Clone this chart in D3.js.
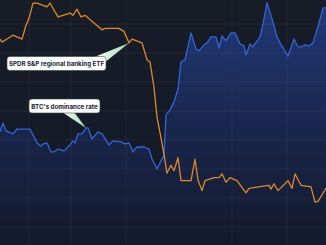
<!DOCTYPE html>
<html><head><meta charset="utf-8">
<script src="https://cdn.jsdelivr.net/npm/d3@7"></script>
<style>html,body{margin:0;padding:0;background:#161b26;}svg{display:block;}</style>
</head><body>
<svg id="c" width="326" height="245"></svg>
<script>
// Regional banking ETF price (USD)
const etfDays  = [0,1,3.5,6.5,11,13,14.5,16.5,18.5,23.5,25,27,29,31.5,35,36.5,38.5,40.5,42.5,47,51,52.5,59.5,62,64.5,66,71,73.5,75,77,78.5,80.5,82,83.5,85.5,87,89,90.5,95.5,97.5,99,101,102.5,107,109.5,111,113,115,118.5,123,124.5,131.5,134.5,135.5,137,139,144,146,147.5,150.5,155.5,157.5,159,163];
const etfPrice = [56.9,56.5,56.9,57.4,56.9,58.7,59.6,61.6,61.6,61.1,61.6,60.7,59.8,60.0,60.3,60.0,60.8,59.8,60.0,59.0,58.1,58.3,58.3,57.9,56.4,56.9,56.4,54.2,53.9,50.6,46.7,44.0,41.8,39.4,40.4,39.7,41.4,38.4,38.4,41.2,38.5,37.1,38.4,38.8,38.8,39.3,38.2,38.8,38.4,36.8,37.4,37.7,37.8,37.3,38.0,37.1,38.4,37.4,39.3,37.8,37.6,35.6,35.7,37.4];
// BTC dominance rate (%)
const btcDays = [0,1.5,3,6.5,8.5,15,18.5,20.5,21.5,23.5,25.5,27,29,32,35,36.5,37.5,39,41,43,44,46,49,51,54.5,56.5,60.5,62.5,64.5,66.5,68.5,72,74.5,76,78.5,82,83,85,87,89,90.5,92.5,95.5,98,99.5,102,103.5,105.5,108,109.5,111,113,115.5,117.5,120,122,123,125,126.5,130,131.5,133.5,136.5,138.5,140,144,147,149,150.5,152.5,154.5,156.5,159.5,161.5,163];
const btcDom  = [43.54,43.98,43.59,43.44,43.68,43.68,43.00,42.85,42.95,43.00,42.56,42.56,42.70,42.61,42.90,43.10,43.00,43.44,43.44,43.73,43.73,43.19,43.54,43.44,42.90,43.10,43.05,42.95,43.00,42.56,42.80,42.80,42.70,42.21,41.72,42.41,44.37,44.62,45.01,45.64,46.97,47.07,48.39,47.60,47.51,47.80,47.90,48.19,48.19,47.65,48.24,48.00,48.39,48.39,47.85,47.75,47.31,47.85,47.70,48.19,48.83,49.86,48.93,48.19,47.90,47.26,48.09,47.70,47.70,47.80,47.75,47.90,48.88,49.61,49.61];
const gridDays = [14.5,35.5,63,116,143.5];
const gridRows = [0,1,2,3,4,5,6,7];
const labels = ["SPDR S&P regional banking ETF","BTC's dominance rate"];

const W=326,H=245;
const svg=d3.select("#c");
const x=d3.scaleLinear().domain([0,163]).range([0,W]);
const yEtf=d3.scaleLinear().domain([30,62]).range([H,0]);
const yBtc=d3.scaleLinear().domain([38,50]).range([H,0]);
const yGrid=d3.scaleLinear().domain([0,7]).range([24,227]);

const defs=svg.append("defs");
const bg=defs.append("linearGradient").attr("id","bg").attr("x1",0).attr("y1",0).attr("x2",0).attr("y2",1);
bg.append("stop").attr("offset","0%").attr("stop-color","#171c27");
bg.append("stop").attr("offset","100%").attr("stop-color","#131928");
const ag=defs.append("linearGradient").attr("id","ag").attr("gradientUnits","userSpaceOnUse").attr("x1",0).attr("y1",0).attr("x2",0).attr("y2",H);
ag.append("stop").attr("offset","0%").attr("stop-color","#213a7a");
ag.append("stop").attr("offset","55%").attr("stop-color","#19254a");
ag.append("stop").attr("offset","100%").attr("stop-color","#141a2c");
const pg=defs.append("linearGradient").attr("id","pg").attr("x1",0).attr("y1",0).attr("x2",1).attr("y2",0);
pg.append("stop").attr("offset","0%").attr("stop-color","#ffffff");
pg.append("stop").attr("offset","100%").attr("stop-color","#9fdcae");

svg.append("rect").attr("width",W).attr("height",H).attr("fill","url(#bg)");

const btc=btcDays.map((d,i)=>[d,btcDom[i]]);
const etf=etfDays.map((d,i)=>[d,etfPrice[i]]);

svg.append("path").datum(btc)
  .attr("d",d3.area().x(d=>x(d[0])).y0(H).y1(d=>yBtc(d[1])))
  .attr("fill","url(#ag)");

// grid
svg.append("g").selectAll("line").data(gridDays).join("line")
  .attr("x1",d=>x(d)).attr("x2",d=>x(d)).attr("y1",0).attr("y2",H)
  .attr("stroke","rgba(255,255,255,0.05)").attr("stroke-width",1);
svg.append("g").selectAll("line").data(gridRows).join("line")
  .attr("y1",d=>yGrid(d)).attr("y2",d=>yGrid(d)).attr("x1",0).attr("x2",W)
  .attr("stroke","rgba(255,255,255,0.05)").attr("stroke-width",1);

svg.append("path").datum(btc)
  .attr("d",d3.line().x(d=>x(d[0])).y(d=>yBtc(d[1])))
  .attr("fill","none").attr("stroke","#3265d6").attr("stroke-width",1.3).attr("stroke-linejoin","round");
svg.append("path").datum(etf)
  .attr("d",d3.line().x(d=>x(d[0])).y(d=>yEtf(d[1])))
  .attr("fill","none").attr("stroke","#d98a2c").attr("stroke-width",1.3).attr("stroke-linejoin","round");

// annotations
function callout(x0,x1,cy,text,tipDay,tipY,b1,b2){
  const g=svg.append("g");
  g.append("path").attr("d",`M${b1[0]},${b1[1]}L${x(tipDay)},${tipY}L${b2[0]},${b2[1]}Z`).attr("fill","url(#pg)");
  g.append("rect").attr("x",x0).attr("y",cy-7).attr("width",x1-x0).attr("height",14).attr("rx",3)
    .attr("fill","#ffffff").attr("stroke","#2d4a3a").attr("stroke-width",0.6);
  g.append("text").attr("x",(x0+x1)/2).attr("y",cy).attr("text-anchor","middle").attr("dominant-baseline","central")
    .attr("font-family","Inter, 'Open Sans', sans-serif").attr("font-size",6.2).attr("font-weight",700).attr("fill","#1c2333").text(text);
}
callout(7,106,63.5,labels[0],64.5,yEtf(56.4),[92,58],[104,63]);
callout(29,100,106,labels[1],43,yBtc(43.73),[62,112],[74,112]);
</script>
</body></html>
